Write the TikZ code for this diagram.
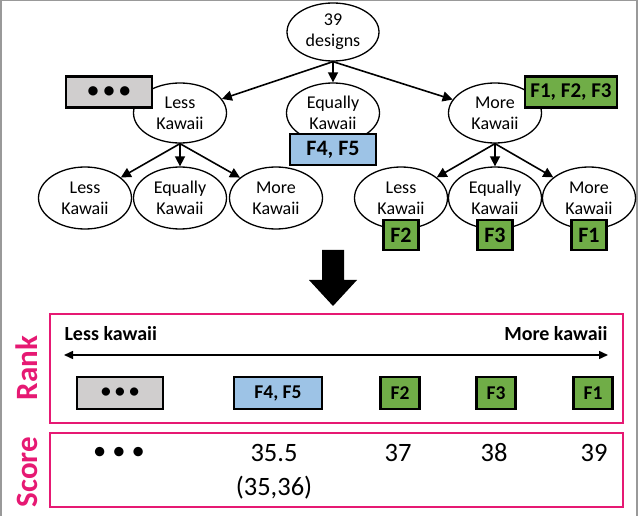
\documentclass[tikz,border=0pt]{standalone}
\usepackage{fontspec}
\setmainfont{Carlito}
\usetikzlibrary{arrows.meta,positioning,shapes.geometric}
\definecolor{rankpink}{RGB}{230,25,115}
\definecolor{boxgreen}{RGB}{112,173,71}
\definecolor{boxblue}{RGB}{157,195,230}
\definecolor{boxgray}{RGB}{208,206,206}
\begin{document}
\begin{tikzpicture}[x=1pt, y=-1pt,
    choice/.style={ellipse, draw, line width=1.3pt, minimum width=93pt, minimum height=60pt,
        inner sep=0pt, align=center, font=\fontsize{18}{21}\selectfont},
    tag/.style={draw, line width=2.6pt, inner sep=2pt, minimum height=31pt,
        font=\bfseries\fontsize{22}{24}\selectfont},
    ranktag/.style={tag, line width=2.2pt, minimum height=32pt, font=\bfseries\fontsize{19.5}{22}\selectfont},
    pick/.style={-{Triangle[length=10pt,width=10pt]}, line width=1.6pt},
    panel/.style={draw=rankpink, line width=1.8pt},
    side/.style={rotate=90, text=rankpink, font=\bfseries\fontsize{31}{32}\selectfont},
    score/.style={font=\fontsize{26.5}{28}\selectfont}]
    \useasboundingbox (0,0) rectangle (641,516);
    \draw[gray!80, line width=1.5pt] (0.75,516) -- (0.75,0.75) -- (637,0.75) -- (637,516);

    % tree of choices
    \node[choice, minimum width=92pt, minimum height=58pt] (all) at (333,32) {39\\designs};
    \node[choice] (less) at (180,113) {Less\\Kawaii};
    \node[choice] (equal) at (333,113) {Equally\\Kawaii};
    \node[choice] (more) at (495,113) {More\\Kawaii};
    \node[choice, minimum height=62pt] (lessL) at (85,198) {Less\\Kawaii};
    \node[choice, minimum height=62pt] (lessE) at (180,198) {Equally\\Kawaii};
    \node[choice, minimum height=62pt] (lessM) at (276,198) {More\\Kawaii};
    \node[choice, minimum height=62pt] (moreL) at (401,198) {Less\\Kawaii};
    \node[choice, minimum height=62pt] (moreE) at (495,198) {Equally\\Kawaii};
    \node[choice, minimum height=62pt] (moreM) at (589,198) {More\\Kawaii};

    \draw[pick] (all.south) -- (less);
    \draw[pick] (all.south) -- (equal);
    \draw[pick] (all.south) -- (more);
    \foreach \to in {lessL,lessE,lessM} \draw[pick] (less.south) -- (\to);
    \foreach \to in {moreL,moreE,moreM} \draw[pick] (more.south) -- (\to);

    \node[tag, fill=boxgray, minimum width=86pt] (lessTag) at (109,92) {\textbullet\ \textbullet\ \textbullet};
    \node[tag, fill=boxblue, minimum width=86pt, below=-11pt of equal] (equalTag) {F4, F5};
    \node[tag, fill=boxgreen, minimum width=92pt, font=\bfseries\fontsize{21}{24}\selectfont] (moreTag) at (571,92) {F1, F2, F3};
    \node[tag, fill=boxgreen, minimum width=35pt, minimum height=30pt, below=-11pt of moreL] (tagF2) {F2};
    \node[tag, fill=boxgreen, minimum width=35pt, minimum height=30pt, below=-11pt of moreE] (tagF3) {F3};
    \node[tag, fill=boxgreen, minimum width=35pt, minimum height=30pt, below=-11pt of moreM] (tagF1) {F1};

    % big arrow down
    \fill (322,250) -- (344,250) -- (344,280) -- (357,280) -- (333,306) -- (309,280) -- (322,280) -- cycle;

    % rank panel
    \draw[panel] (50,314) rectangle (623,423);
    \node[side] (rankLab) at (27,368) {Rank};
    \coordinate (leftEnd) at (64,355);
    \coordinate (rightEnd) at (608,355);
    \draw[{Triangle[length=9pt,width=8pt]}-{Triangle[length=9pt,width=8pt]}, line width=1.5pt] (leftEnd) -- (rightEnd);
    \node[anchor=west, font=\bfseries\fontsize{20}{22}\selectfont] (lessLab) at (61,334) {Less kawaii};
    \node[anchor=east, font=\bfseries\fontsize{20}{22}\selectfont] (moreLab) at (611,334) {More kawaii};
    \node[ranktag, fill=boxgray, minimum width=86pt] (rankDots) at (120,393) {\textbullet\ \textbullet\ \textbullet};
    \node[ranktag, fill=boxblue, minimum width=88pt] (rankF45) at (278,393) {F4, F5};
    \node[ranktag, fill=boxgreen, minimum width=39pt] (rankF2) at (400,393) {F2};
    \node[ranktag, fill=boxgreen, minimum width=39pt] (rankF3) at (496,393) {F3};
    \node[ranktag, fill=boxgreen, minimum width=39pt] (rankF1) at (593,393) {F1};

    % score panel
    \draw[panel] (50,433) rectangle (623,507);
    \node[side] (scoreLab) at (27,472) {Score};
    \node[score] (scoreDots) at (119,453) {\textbullet\ \textbullet\ \textbullet};
    \node[score] (score45) at (274,453) {35.5};
    \node[score] (pair45) at (274,488) {(35,36)};
    \node[score] (score2) at (398,453) {37};
    \node[score] (score3) at (494,453) {38};
    \node[score] (score1) at (594,453) {39};
\end{tikzpicture}
\end{document}
